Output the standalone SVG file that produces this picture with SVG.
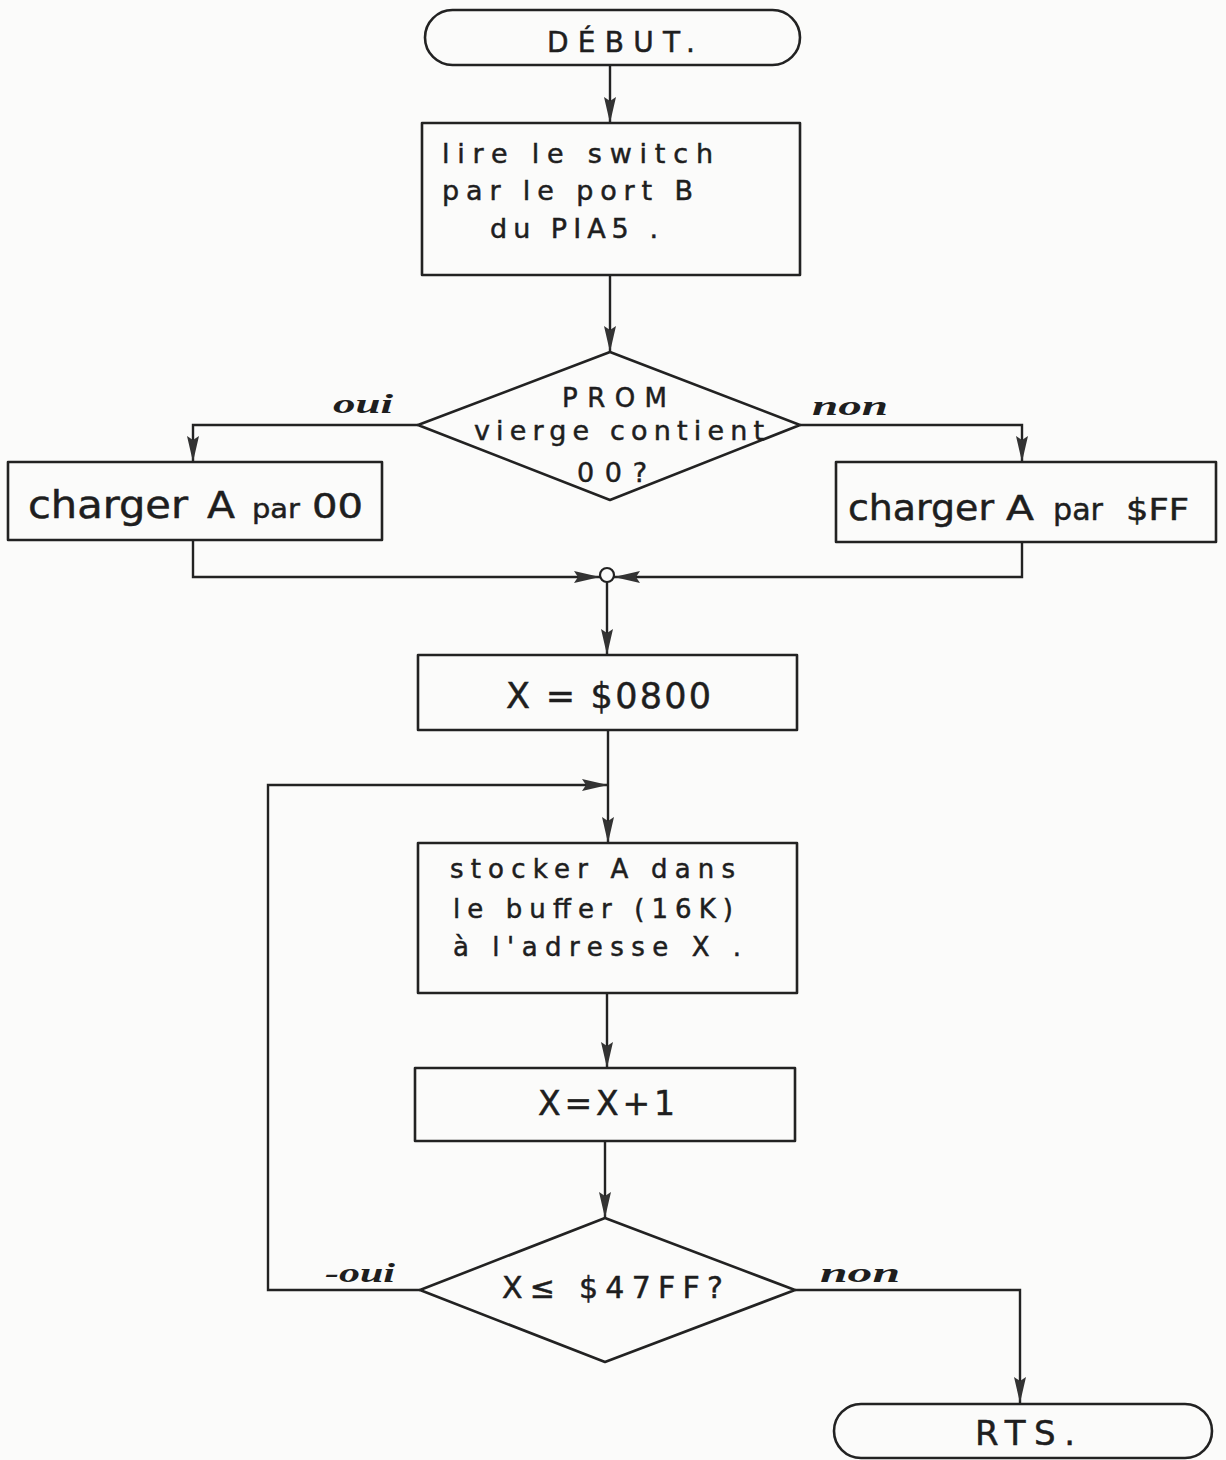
<svg xmlns="http://www.w3.org/2000/svg" width="1226" height="1460" viewBox="0 0 1226 1460">
<style>
.shape{fill:none;stroke:#222;stroke-width:2.6;stroke-linejoin:round}
.conn{fill:none;stroke:#222;stroke-width:2.4}
.t{font-family:"DejaVu Sans","Liberation Sans",sans-serif;fill:#1e1e1e;stroke:#1e1e1e;stroke-width:0.5}
.lbl{font-family:"Liberation Serif",serif;font-style:italic;font-weight:bold;fill:#1e1e1e}
</style>
<defs>
<marker id="ah" markerUnits="userSpaceOnUse" markerWidth="28" markerHeight="14" refX="26" refY="7" orient="auto">
<path d="M0,1 L26,7 L0,13 L4,7 z" fill="#333"/>
</marker>
</defs>
<rect width="1226" height="1460" fill="#fbfbfa"/>
<g id="connectors">
<path class="conn" d="M610,65 V123" marker-end="url(#ah)"/>
<path class="conn" d="M610,275 V352" marker-end="url(#ah)"/>
<path class="conn" d="M418,425 H193 V462" marker-end="url(#ah)"/>
<path class="conn" d="M800,425 H1022 V462" marker-end="url(#ah)"/>
<path class="conn" d="M193,540 V577 H600" marker-end="url(#ah)"/>
<path class="conn" d="M1022,542 V577 H614" marker-end="url(#ah)"/>
<path class="conn" d="M607,582 V655" marker-end="url(#ah)"/>
<path class="conn" d="M608,730 V843" marker-end="url(#ah)"/>
<path class="conn" d="M420,1290 H268 V785 H608" marker-end="url(#ah)"/>
<path class="conn" d="M607,993 V1068" marker-end="url(#ah)"/>
<path class="conn" d="M605,1141 V1218" marker-end="url(#ah)"/>
<path class="conn" d="M795,1290 H1020 V1403" marker-end="url(#ah)"/>
<circle cx="607" cy="575" r="7" fill="#fbfbfa" stroke="#222" stroke-width="2.2"/>
<text class="lbl" x="333" y="413" font-size="27" textLength="60" lengthAdjust="spacingAndGlyphs">oui</text>
<text class="lbl" x="812" y="415" font-size="27" textLength="76" lengthAdjust="spacingAndGlyphs">non</text>
<text class="lbl" x="325" y="1282" font-size="27" textLength="70" lengthAdjust="spacingAndGlyphs">-oui</text>
<text class="lbl" x="820" y="1282" font-size="27" textLength="80" lengthAdjust="spacingAndGlyphs">non</text>
</g>
<g id="debut">
<rect class="shape" x="425" y="10" width="375" height="55" rx="27.5"/>
<text class="t" x="547" y="52" font-size="28" textLength="148" lengthAdjust="spacing">DÉBUT.</text>
</g>
<g id="lire">
<rect class="shape" x="422" y="123" width="378" height="152"/>
<text class="t" x="442" y="163" font-size="27" textLength="271" lengthAdjust="spacing">lire le switch</text>
<text class="t" x="442" y="200" font-size="27" textLength="251" lengthAdjust="spacing">par le port B</text>
<text class="t" x="490" y="238" font-size="27" textLength="168" lengthAdjust="spacing">du PIA5 .</text>
</g>
<g id="prom">
<polygon class="shape" points="610,352 800,425 610,500 418,425"/>
<text class="t" x="562" y="407" font-size="26" textLength="105" lengthAdjust="spacing">PROM</text>
<text class="t" x="474" y="440" font-size="27" textLength="290" lengthAdjust="spacing">vierge contient</text>
<text class="t" x="577" y="482" font-size="27" textLength="70" lengthAdjust="spacing">00?</text>
</g>
<g id="charger00">
<rect class="shape" x="8" y="462" width="374" height="78"/>
<text class="t" x="28" y="518" font-size="37" textLength="160" lengthAdjust="spacingAndGlyphs">charger</text>
<text class="t" x="207" y="518" font-size="38" textLength="28" lengthAdjust="spacingAndGlyphs">A</text>
<text class="t" x="252" y="518" font-size="27" textLength="48" lengthAdjust="spacingAndGlyphs">par</text>
<text class="t" x="312" y="518" font-size="34" textLength="51" lengthAdjust="spacingAndGlyphs">00</text>
</g>
<g id="chargerFF">
<rect class="shape" x="836" y="462" width="380" height="80"/>
<text class="t" x="848" y="520" font-size="35" textLength="146" lengthAdjust="spacingAndGlyphs">charger</text>
<text class="t" x="1006" y="520" font-size="34" textLength="28" lengthAdjust="spacingAndGlyphs">A</text>
<text class="t" x="1053" y="520" font-size="31" textLength="50" lengthAdjust="spacingAndGlyphs">par</text>
<text class="t" x="1126" y="520" font-size="31" textLength="63" lengthAdjust="spacingAndGlyphs">$FF</text>
</g>
<g id="x0800">
<rect class="shape" x="418" y="655" width="379" height="75"/>
<text class="t" x="506" y="708" font-size="35" textLength="205" lengthAdjust="spacing">X = $0800</text>
</g>
<g id="stocker">
<rect class="shape" x="418" y="843" width="379" height="150"/>
<text class="t" x="450" y="878" font-size="26" textLength="285" lengthAdjust="spacing">stocker A dans</text>
<text class="t" x="453" y="918" font-size="26" textLength="280" lengthAdjust="spacing">le buffer (16K)</text>
<text class="t" x="453" y="956" font-size="26" textLength="288" lengthAdjust="spacing">à l'adresse X .</text>
</g>
<g id="xplus1">
<rect class="shape" x="415" y="1068" width="380" height="73"/>
<text class="t" x="538" y="1115" font-size="33" textLength="137" lengthAdjust="spacing">X=X+1</text>
</g>
<g id="test">
<polygon class="shape" points="605,1218 795,1290 605,1362 420,1290"/>
<text class="t" x="502" y="1298" font-size="30" textLength="221" lengthAdjust="spacing">X≤ $47FF?</text>
</g>
<g id="rts">
<rect class="shape" x="834" y="1404" width="378" height="54" rx="27"/>
<text class="t" x="975" y="1445" font-size="34" textLength="100" lengthAdjust="spacing">RTS.</text>
</g>
</svg>
